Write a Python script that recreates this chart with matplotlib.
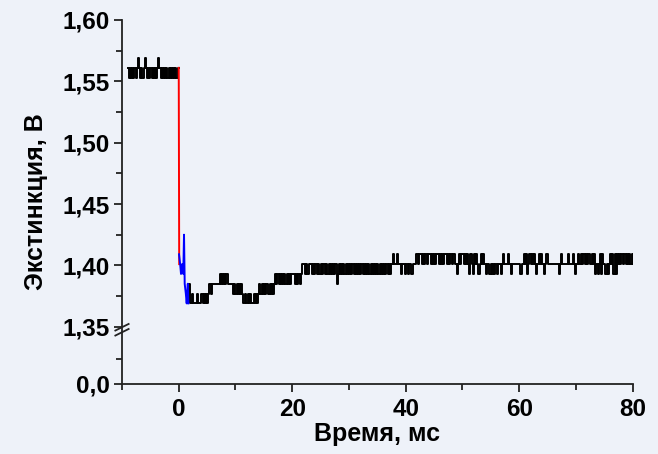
import numpy as np
import matplotlib
matplotlib.use("Agg")
import matplotlib.pyplot as plt
from matplotlib.ticker import FixedLocator, FixedFormatter

plt.rcParams['font.family'] = ['Liberation Sans', 'DejaVu Sans']
plt.rcParams['font.weight'] = 'bold'

DT = 0.2  # ms per sample

# trace before the pulse: level codes -> volts
PRE_T0 = -9.0
PRE_LEVELS = [1.553, 1.561, 1.569]
PRE_CODES = ["1010101012", "1010121010", "1010101210", "1010101010", "101011"]

# fast drop (red) and the first ~1.7 ms after it (blue)
DROP_T = [0.0, 0.08]
DROP_V = [1.561, 1.401]
FAST_T = [0.05, 0.25, 0.4, 0.6, 0.8, 0.93, 1.05, 1.25, 1.4, 1.6, 1.7]
FAST_V = [1.409, 1.401, 1.393, 1.401, 1.393, 1.425, 1.385, 1.377, 1.369, 1.385, 1.369]

# slow recovery, one string per 2 ms
POST_T0 = 1.6
POST_LEVELS = [1.369, 1.377, 1.385, 1.393, 1.401, 1.409]
POST_CODES = [
    "22",
    "0010001000", "1010101212", "2222223232", "3232222212", "1212121010",
    "0101001010", "1212121221", "2121232323", "2323232323", "3323233234",
    "4343344343", "4434343443", "4343434342", "3434343434", "3434343434",
    "3434343434", "3434343434", "3434343445", "4454443443", "4434434445",
    "5455454554", "5545454554", "5454554545", "5454434545", "5454543543",
    "5454345454", "4343343434", "3444345444", "5443444444", "4344545345",
    "4545434545", "4434544444", "4444434544", "4445444543", "4454545545",
    "4544545343", "4535443434", "5453535454", "5455454545",
    "4",
]

Y_TICKS = [0.0, 1.35, 1.40, 1.45, 1.50, 1.55, 1.60]
Y_TICK_LABELS = ["0,0", "1,35", "1,40", "1,45", "1,50", "1,55", "1,60"]
Y_MINOR = [0.6, 1.375, 1.425, 1.475, 1.525, 1.575]
X_TICKS = [0, 20, 40, 60, 80]
X_MINOR = [-10, 10, 30, 50, 70]


def decode(t0, codes, levels):
    s = "".join(codes)
    v = np.array([levels[int(c)] for c in s])
    t = t0 + DT * np.arange(len(s))
    return t, v


pre_t, pre_v = decode(PRE_T0, PRE_CODES, PRE_LEVELS)
post_t, post_v = decode(POST_T0, POST_CODES, POST_LEVELS)

# broken y axis: 0..1.35 squeezed into a short stub below the break
BREAK = 1.35
GAP = 0.0467


def fwd(y):
    y = np.asarray(y, dtype=float)
    return np.where(y >= BREAK, y - BREAK + GAP, y * GAP / BREAK)


def inv(u):
    u = np.asarray(u, dtype=float)
    return np.where(u >= GAP, u - GAP + BREAK, u * BREAK / GAP)


bg = '#eef2f9'
fig = plt.figure(figsize=(6.58, 4.54), dpi=100, facecolor=bg)
ax = fig.add_axes([0.1854, 0.1542, 0.7762, 0.8018])
ax.set_facecolor(bg)

ax.plot(pre_t, pre_v, color='black', lw=1.4, drawstyle='steps-post')
ax.plot(post_t, post_v, color='black', lw=1.4, drawstyle='steps-post')
ax.plot(DROP_T, DROP_V, color='#ff0000', lw=1.4)
ax.plot(FAST_T, FAST_V, color='#0000ff', lw=1.4)

ax.set_yscale('function', functions=(fwd, inv))
ax.set_ylim(0, 1.60)
ax.set_xlim(-10, 80)

ax.yaxis.set_major_locator(FixedLocator(Y_TICKS))
ax.yaxis.set_major_formatter(FixedFormatter(Y_TICK_LABELS))
ax.yaxis.set_minor_locator(FixedLocator(Y_MINOR))
ax.xaxis.set_major_locator(FixedLocator(X_TICKS))
ax.xaxis.set_minor_locator(FixedLocator(X_MINOR))

for side in ('top', 'right'):
    ax.spines[side].set_visible(False)
for side in ('left', 'bottom'):
    ax.spines[side].set_color('#222222')
    ax.spines[side].set_linewidth(1.3)

ax.tick_params(which='major', direction='out', length=6, width=1.3, color='#222222',
               labelsize=17.5, pad=3)
ax.tick_params(which='minor', direction='out', length=4, width=1.3, color='#222222')
ax.tick_params(axis='x', which='major', pad=4)

# break marks across the y spine
yb = 0.149
for dy in (-0.0069, 0.0069):
    ax.plot([-0.013, 0.013], [yb + dy - 0.009, yb + dy + 0.009], transform=ax.transAxes,
            color='#222222', lw=1.3, clip_on=False)

ax.set_xlabel("Время, мс", fontsize=18, fontweight='bold', labelpad=1)
ax.set_ylabel("Экстинкция, В", fontsize=18, fontweight='bold', labelpad=10)

fig.savefig("out.png", dpi=100, facecolor=bg)
